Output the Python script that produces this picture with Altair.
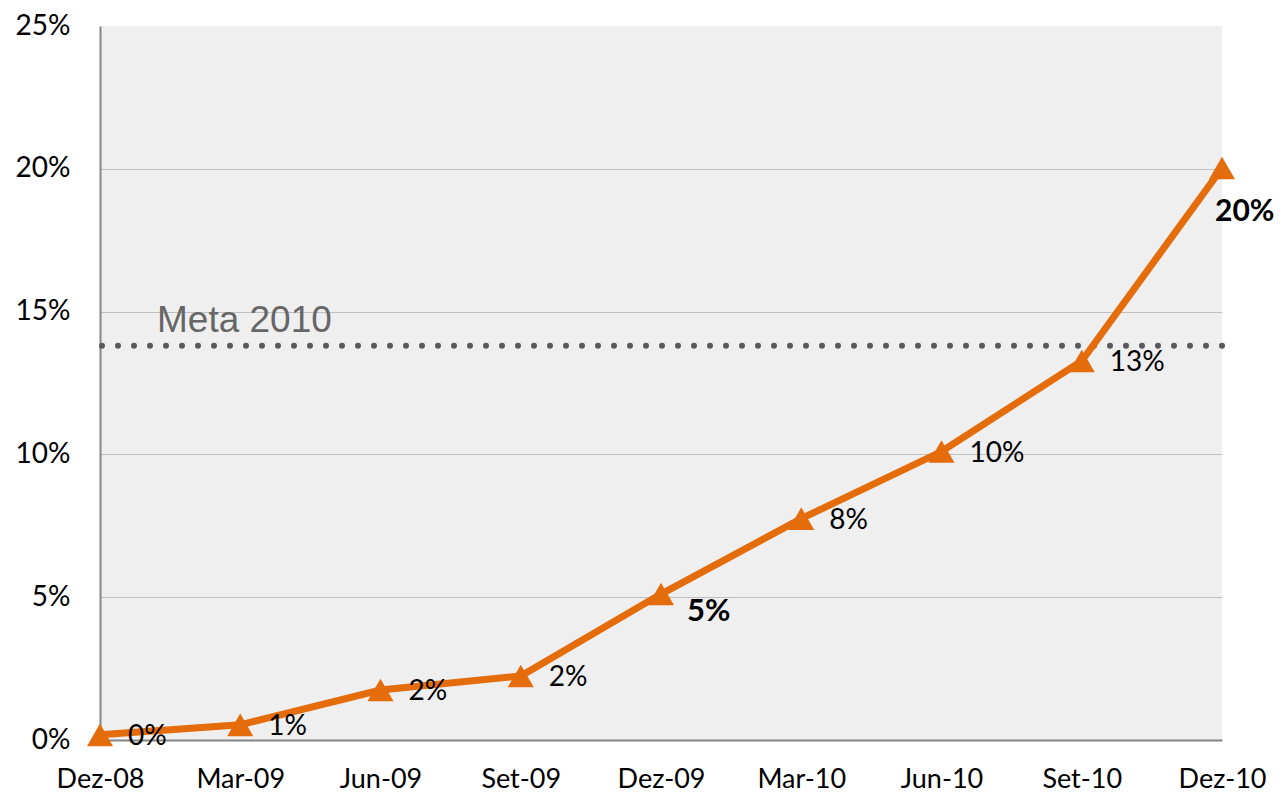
import altair as alt
import pandas as pd
import json

periods = ["Dez-08", "Mar-09", "Jun-09", "Set-09", "Dez-09", "Mar-10", "Jun-10", "Set-10", "Dez-10"]
values = [0.0018, 0.0053, 0.0175, 0.0224, 0.0511, 0.0775, 0.1010, 0.1327, 0.2003]
bold_mid = ["Dez-09"]
bold_end = ["Dez-10"]
meta_value = 0.138
meta_label = "Meta 2010"
y_ticks = [0, 0.05, 0.10, 0.15, 0.20, 0.25]

df = pd.DataFrame({"period": periods, "value": values})

ORANGE = "#E46C0A"
FONT = "Lato"

x_enc = alt.X(
    "period:N",
    sort=periods,
    scale=alt.Scale(type="point", padding=0),
    axis=alt.Axis(
        title=None,
        ticks=False,
        labelAngle=0,
        labelFontSize=27,
        labelPadding=26,
        domainColor="#868686",
        domainWidth=2,
        grid=False,
    ),
)
y_enc = alt.Y(
    "value:Q",
    scale=alt.Scale(domain=[0, 0.25], nice=False, zero=True),
    axis=alt.Axis(
        title=None,
        format=".0%",
        values=y_ticks,
        ticks=False,
        labelFontSize=28,
        labelPadding=30,
        domainColor="#868686",
        domainWidth=2,
        gridColor="#bfbfbf",
        gridWidth=1.2,
        gridOpacity={"condition": {"test": "datum.value >= 0.25 || datum.value <= 0", "value": 0}, "value": 1},
    ),
)

base = alt.Chart(df).encode(x=x_enc, y=y_enc)

bold_all = json.dumps(bold_mid + bold_end)
mid_list = json.dumps(bold_mid)
end_list = json.dumps(bold_end)

meta_rule = alt.Chart(pd.DataFrame({"v": [meta_value]})).mark_rule(
    color="#595959", strokeWidth=6, strokeDash=[0, 16], strokeCap="round"
).encode(y=alt.Y("v:Q"))

meta_text = alt.Chart(pd.DataFrame({"v": [meta_value], "t": [meta_label]})).mark_text(
    font="Liberation Sans", fontSize=37, color="#666666", align="left", baseline="middle", dy=-25
).encode(x=alt.value(57), y=alt.Y("v:Q"), text="t:N")

line = base.mark_line(color=ORANGE, strokeWidth=7)
points = base.mark_point(shape="triangle-up", filled=True, size=680, color=ORANGE, opacity=1)

labels = base.transform_filter(
    f"indexof({bold_all}, datum.period) < 0"
).mark_text(font=FONT, fontSize=28, align="left", baseline="middle", dx=28, dy=2, color="black").encode(
    text=alt.Text("value:Q", format=".0%")
)

labels_mid = base.transform_filter(
    f"indexof({mid_list}, datum.period) >= 0"
).mark_text(font=FONT, fontSize=31, fontWeight="bold", align="left", baseline="middle", dx=26, dy=18, color="black").encode(
    text=alt.Text("value:Q", format=".0%")
)

labels_end = base.transform_filter(
    f"indexof({end_list}, datum.period) >= 0"
).mark_text(font=FONT, fontSize=30, fontWeight="bold", align="left", baseline="middle", dx=-7, dy=44, color="black").encode(
    text=alt.Text("value:Q", format=".0%")
)

chart = alt.layer(meta_rule, meta_text, line, points, labels, labels_mid, labels_end).properties(
    width=1122,
    height=714,
    autosize=alt.AutoSizeParams(type="none"),
    padding={"left": 92, "top": 18, "right": 57, "bottom": 55},
).configure_view(
    fill="#efefef", stroke=None
).configure_axis(
    labelFont=FONT, labelColor="black"
)

chart.save("out.html", embed_options={"renderer": "svg", "actions": False})
